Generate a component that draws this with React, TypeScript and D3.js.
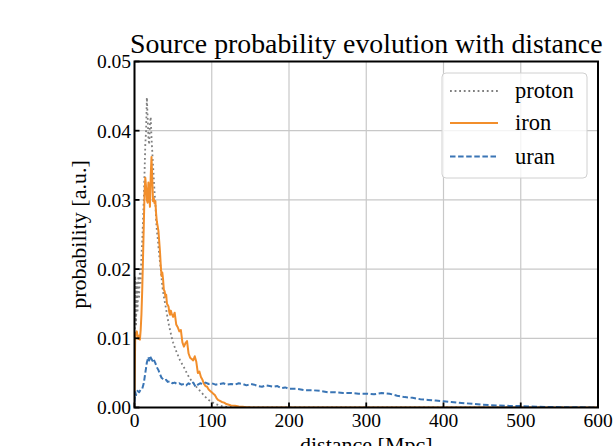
import React from "react";
import * as d3 from "d3";

const xTicks = [0, 100, 200, 300, 400, 500, 600];
const yTicks = [0, 0.01, 0.02, 0.03, 0.04, 0.05];

const protonDist = [0,1,2,3,4,5,6,7,8,9,10,11,12,13,14,15,16,17,18,19,20,21,22,23,24,25,26,27,28,29,30,32,34,36,38,40,42,44,46,48,50,53,56,59,62,65,68,71,74,77,80,84,88,92,96,100,105,110,115,120,130,150,600];
const protonProb = [0.010,0.019,0.012,0.018,0.014,0.019,0.016,0.020,0.018,0.022,0.024,0.027,0.030,0.034,0.038,0.040,0.0448,0.042,0.039,0.038,0.041,0.042,0.039,0.037,0.035,0.033,0.031,0.0295,0.027,0.0255,0.0245,0.022,0.020,0.0175,0.016,0.0148,0.0135,0.0122,0.0112,0.0102,0.0094,0.0084,0.0076,0.0068,0.0062,0.0056,0.0049,0.0043,0.0038,0.0034,0.0030,0.0025,0.0020,0.0015,0.0011,0.0008,0.0005,0.0003,0.00015,0.0001,0.00003,0,0];

const ironDist = [0,1,2,3,4,5,6,7,8,9,10,11,12,13,14,15,16,17,18,19,20,21,22,23,24,25,26,27,28,29,30,31,32,33,34,35,36,37,38,39,40,41,42,43,44,45,46,47,48,50,52,54,56,58,60,62,64,66,68,70,72,74,76,78,80,82,84,86,88,90,92,94,96,98,100,102,104,106,108,110,113,116,119,122,125,130,135,140,145,150,160,600];
const ironProb = [0.002,0.0108,0.0105,0.0110,0.0102,0.0099,0.0104,0.0098,0.0112,0.0135,0.0170,0.0215,0.0262,0.0310,0.0332,0.0318,0.0300,0.0296,0.0325,0.0310,0.0290,0.0335,0.0362,0.0330,0.0298,0.0302,0.0295,0.0298,0.0280,0.0268,0.0262,0.0255,0.0240,0.0225,0.0205,0.0190,0.0195,0.0185,0.0170,0.0168,0.0160,0.0163,0.0150,0.0148,0.0146,0.0138,0.0134,0.0140,0.0136,0.0131,0.0137,0.0120,0.0116,0.0110,0.0112,0.0094,0.0088,0.0093,0.0096,0.0078,0.0072,0.0070,0.0068,0.0074,0.0066,0.0050,0.0052,0.0044,0.0040,0.0034,0.0031,0.0030,0.0026,0.0024,0.0022,0.0020,0.0018,0.0014,0.0011,0.0010,0.0008,0.0007,0.0005,0.0004,0.0003,0.00025,0.00015,0.0001,0.00005,0.00002,0,0];

const uranDist = [0,1,2,4,6,8,10,12,14,16,18,19,20,22,24,25,27,29,31,33,35,37,39,41,43,46,49,52,55,58,61,64,67,70,73,76,79,82,85,88,92,96,100,105,110,115,120,125,130,135,140,145,150,155,160,165,170,175,180,185,190,195,200,210,220,230,240,250,260,270,280,290,300,310,320,330,340,350,360,370,380,390,400,410,420,430,440,450,460,470,480,490,500,520,540,560,580,600];
const uranProb = [0.0008,0.0022,0.0018,0.0024,0.0022,0.0026,0.0027,0.0035,0.0050,0.0065,0.0073,0.0068,0.0074,0.0070,0.0066,0.0069,0.0064,0.0058,0.0054,0.0048,0.0043,0.0041,0.0039,0.0040,0.0037,0.0038,0.0035,0.0036,0.0034,0.0035,0.0033,0.0034,0.0032,0.0035,0.0033,0.0036,0.0030,0.0033,0.0035,0.0034,0.0036,0.0034,0.0035,0.0033,0.0034,0.0035,0.0033,0.0034,0.0033,0.0035,0.0034,0.0032,0.0034,0.0033,0.0031,0.0030,0.0032,0.0031,0.0030,0.0031,0.0028,0.0029,0.0027,0.0027,0.0025,0.0025,0.0024,0.0022,0.0022,0.0021,0.0021,0.0020,0.0020,0.0019,0.0021,0.0020,0.0017,0.0015,0.0014,0.0012,0.0011,0.0010,0.0009,0.0008,0.0007,0.0006,0.0005,0.0004,0.00035,0.0003,0.00025,0.0002,0.0002,0.0001,0.00006,0.00004,0.00002,0.00001];

const seriesNames = ["proton", "iron", "uran"];

const FONT = "'Liberation Serif', 'Times New Roman', serif";

export default function App() {
  const W = 613, H = 446;
  const x = d3.scaleLinear().domain([0, 600]).range([134.5, 598]);
  const y = d3.scaleLinear().domain([0, 0.05]).range([407.5, 61.5]);

  const mk = (ds: number[], ps: number[]) =>
    d3.line<number>().x((_, i) => x(ds[i])).y((p) => y(p))(ps) || "";

  const styles = [
    { color: "#7f7f7f", dash: "1.8 2.8", width: 1.8, path: mk(protonDist, protonProb) },
    { color: "#f28e2b", dash: "none", width: 2, path: mk(ironDist, ironProb) },
    { color: "#3a75b5", dash: "5.5 2.6", width: 2, path: mk(uranDist, uranProb) },
  ];

  const [x0, x1] = x.range();
  const [y0, y1] = y.range();

  return (
    <svg width={W} height={H} style={{ position: "absolute", left: 0, top: 0, background: "#fff" }} fontFamily={FONT}>
      <rect x={0} y={0} width={W} height={H} fill="#fff" />
      <defs>
        <clipPath id="plotclip">
          <rect x={x0} y={y1} width={x1 - x0} height={y0 - y1} />
        </clipPath>
      </defs>
      {xTicks.map((t) => (
        <line key={"gx" + t} x1={x(t)} x2={x(t)} y1={y0} y2={y1} stroke="#c8c8c8" strokeWidth={1.2} />
      ))}
      {yTicks.map((t) => (
        <line key={"gy" + t} x1={x0} x2={x1} y1={y(t)} y2={y(t)} stroke="#c8c8c8" strokeWidth={1.2} />
      ))}
      <g clipPath="url(#plotclip)">
        {styles.map((s, i) => (
          <path key={i} d={s.path} fill="none" stroke={s.color} strokeWidth={s.width}
            strokeDasharray={s.dash} strokeLinejoin="round" />
        ))}
      </g>
      <rect x={x0} y={y1} width={x1 - x0} height={y0 - y1} fill="none" stroke="#000" strokeWidth={2} />
      {xTicks.map((t) => (
        <g key={"tx" + t}>
          <line x1={x(t)} x2={x(t)} y1={y0} y2={y0 - 5} stroke="#000" strokeWidth={1.8} />
          <text x={x(t)} y={426.5} textAnchor="middle" fontSize={19.5} fill="#000">{t}</text>
        </g>
      ))}
      {yTicks.map((t) => (
        <g key={"ty" + t}>
          <line x1={x0} x2={x0 + 5} y1={y(t)} y2={y(t)} stroke="#000" strokeWidth={1.8} />
          <text x={131} y={y(t) + 6.8} textAnchor="end" fontSize={19.5} fill="#000">{t.toFixed(2)}</text>
        </g>
      ))}
      <text x={(x0 + x1) / 2} y={53} textAnchor="middle" fontSize={27.8} fill="#000">
        Source probability evolution with distance
      </text>
      <text x={(x0 + x1) / 2} y={452} textAnchor="middle" fontSize={22} fill="#000">distance [Mpc]</text>
      <text transform={`translate(86,${(y0 + y1) / 2}) rotate(-90)`} textAnchor="middle" fontSize={22} fill="#000">
        probability [a.u.]
      </text>
      <rect x={442} y={73} width={145} height={105} rx={4} ry={4} fill="#fff" fillOpacity={0.8} stroke="#d0d0d0" strokeWidth={1} />
      {seriesNames.map((n, i) => {
        const ly = [91, 123, 156.5][i];
        const s = styles[i];
        return (
          <g key={n}>
            <line x1={450} x2={498} y1={ly} y2={ly} stroke={s.color} strokeWidth={s.width} strokeDasharray={s.dash} />
            <text x={515} y={ly + 7} fontSize={22.5} fill="#000">{n}</text>
          </g>
        );
      })}
    </svg>
  );
}
